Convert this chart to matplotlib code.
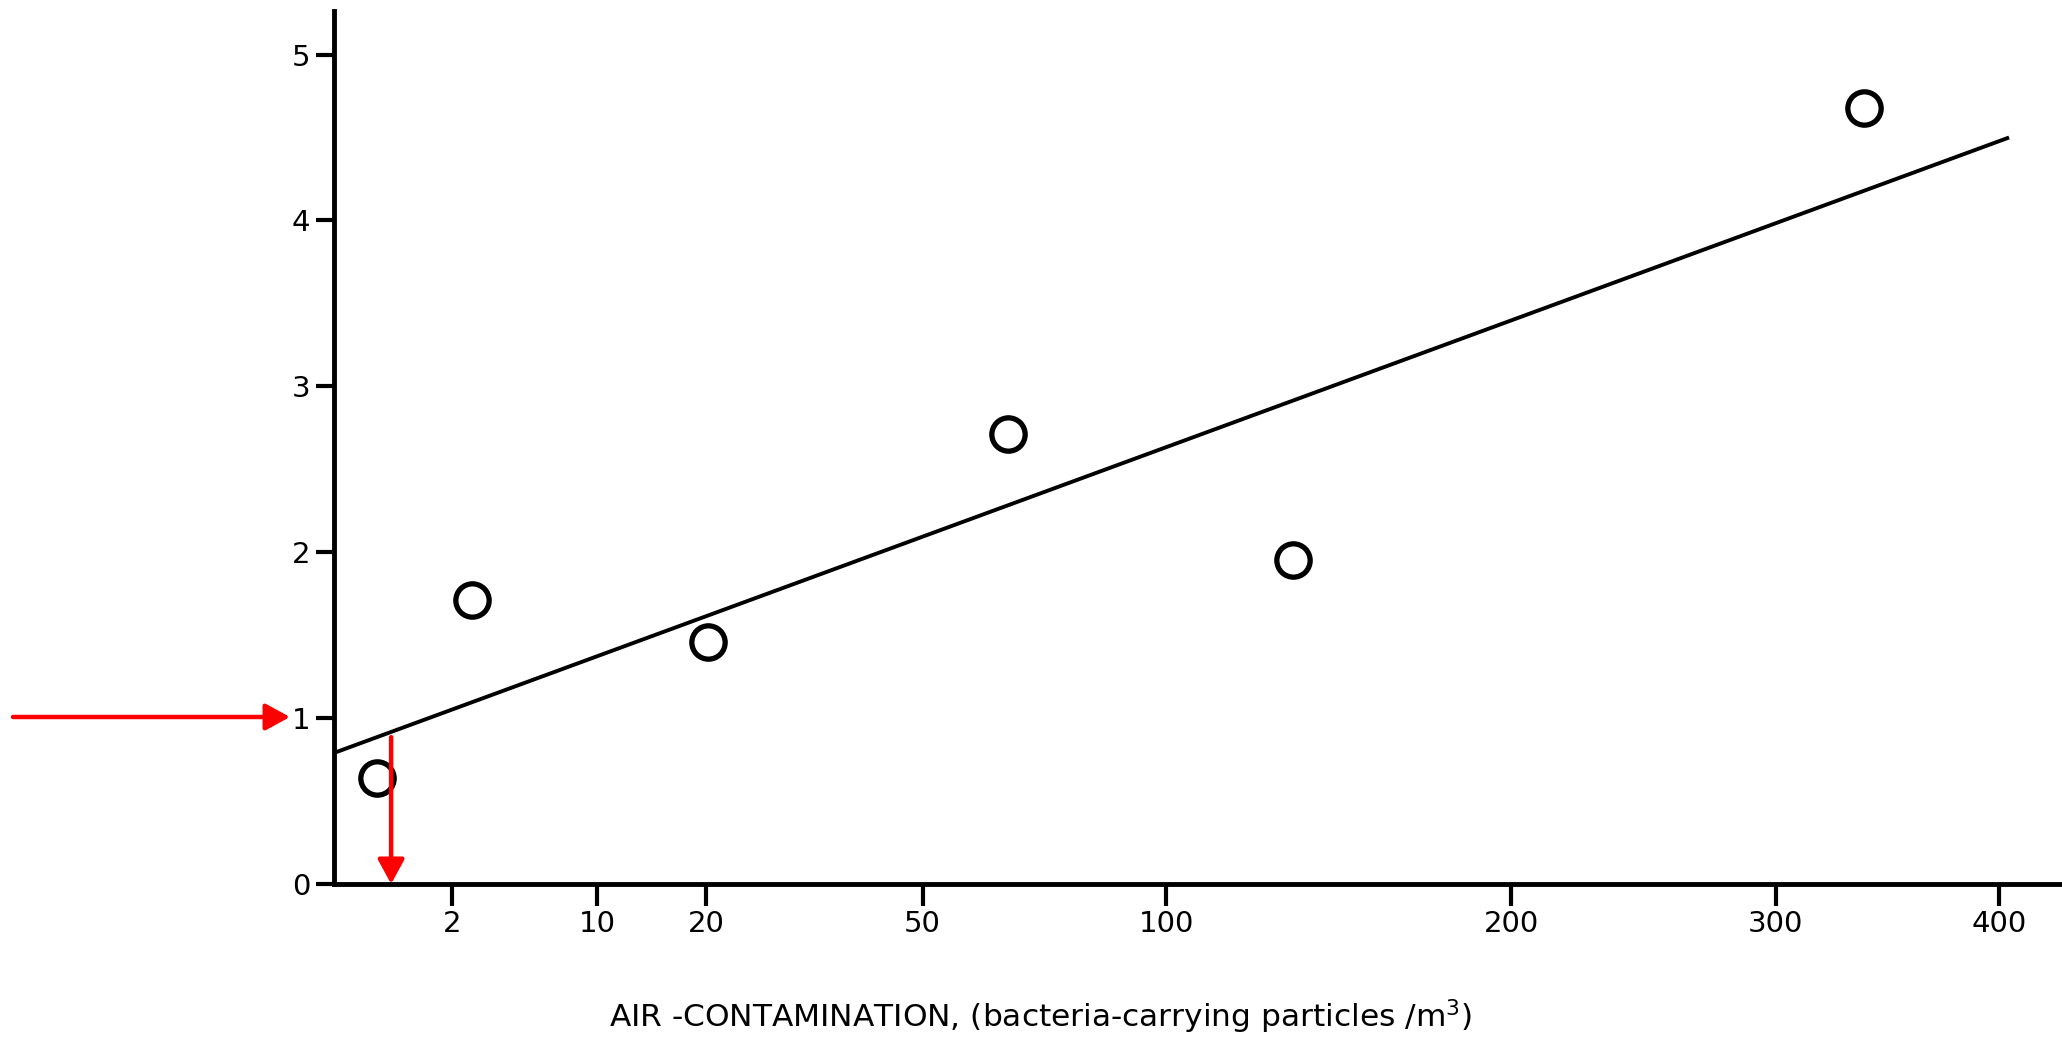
import matplotlib
matplotlib.use("Agg")
import matplotlib.pyplot as plt
import numpy as np

plt.rcParams["font.family"] = ["Liberation Sans Narrow", "DejaVu Sans"]

# observed points (air contamination vs. y value)
contamination = [0.27, 2.76, 20.2, 65.6, 132.7, 338]
values = [0.64, 1.71, 1.46, 2.71, 1.95, 4.68]

# fitted line end points
fit_x = [0, 405]
fit_y = [0.79, 4.50]

xticks = [2, 10, 20, 50, 100, 200, 300, 400]
yticks = [0, 1, 2, 3, 4, 5]

# red marker: reading at y = 1 down to the x axis
mark_x = 0.47
mark_y = 0.885


def fwd(x):
    return np.sqrt(np.clip(x, 0, None))


def inv(x):
    return np.square(x)


def main():
    fig = plt.figure(figsize=(20.62, 10.38), dpi=100)
    ax = fig.add_axes([0.162, 0.1484, 0.838, 0.8406])

    ax.set_xscale("function", functions=(fwd, inv))
    ax.set_xlim(0, 431)
    ax.set_ylim(0, 5.26)

    ax.plot(fit_x, fit_y, color="black", linewidth=2.8, solid_capstyle="butt")
    ax.plot(contamination, values, "o", ms=24, mfc="white", mec="black", mew=3.8)

    ax.set_xticks(xticks)
    ax.set_xticklabels([str(t) for t in xticks])
    ax.set_yticks(yticks)
    ax.tick_params(axis="x", length=16, width=3, pad=3, labelsize=21)
    ax.tick_params(axis="y", length=13, width=3, pad=4, labelsize=21)
    ax.xaxis.set_minor_locator(matplotlib.ticker.NullLocator())

    for side in ["top", "right"]:
        ax.spines[side].set_visible(False)
    ax.spines["left"].set_linewidth(3.5)
    ax.spines["bottom"].set_linewidth(3.5)

    ax.set_xlabel("AIR -CONTAMINATION, (bacteria-carrying particles /m$^3$)", fontsize=22.5)
    ax.xaxis.set_label_coords(0.4086, -0.13)

    # red arrows
    style = "-|>,head_length=0.55,head_width=0.3"
    ax.annotate("", xy=(290, 1038 - 717), xytext=(13, 1038 - 717),
                xycoords="figure pixels", textcoords="figure pixels",
                arrowprops=dict(arrowstyle=style, color="#ff0000", lw=3.2,
                                mutation_scale=27, shrinkA=0, shrinkB=0),
                annotation_clip=False)
    ax.annotate("", xy=(mark_x, 0), xytext=(mark_x, mark_y),
                arrowprops=dict(arrowstyle=style, color="#ff0000", lw=3.2,
                                mutation_scale=27, shrinkA=0, shrinkB=0),
                annotation_clip=False, zorder=5)

    fig.savefig("out.png", dpi=100)


if __name__ == "__main__":
    main()
